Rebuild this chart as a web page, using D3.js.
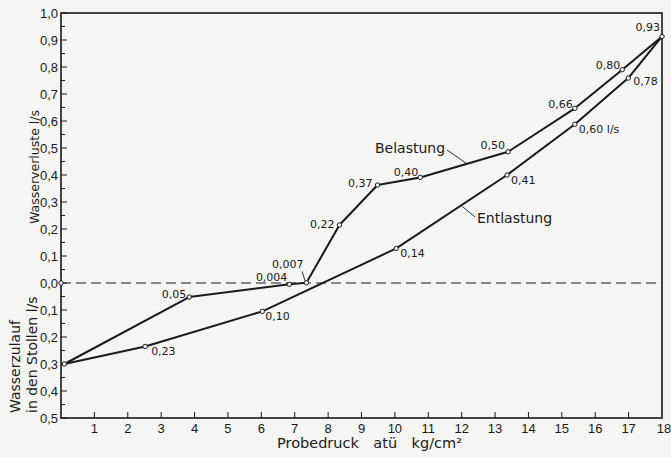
<!DOCTYPE html>
<html>
<head>
<meta charset="utf-8">
<script src="https://cdn.jsdelivr.net/npm/d3@7"></script>
<style>
  body { margin: 0; background: #f5f5f3; }
  svg { display: block; }
  text { fill: #1a1a1a; }
</style>
</head>
<body>
<svg id="chart"></svg>
<script>
// Belastung (loading) curve
const belX = [0.1, 3.84, 6.84, 7.35, 8.34, 9.48, 10.76, 13.39, 15.39, 16.81, 18.0];
const belY = [-0.30, -0.052, -0.005, 0.001, 0.215, 0.363, 0.391, 0.486, 0.647, 0.79, 0.913];
const belLabels = ["", "0,05", "0,004", "0,007", "0,22", "0,37", "0,40", "0,50", "0,66", "0,80", "0,93"];

// Entlastung (unloading) curve
const entX = [18.0, 16.99, 15.39, 13.36, 10.04, 6.03, 2.52, 0.1];
const entY = [0.913, 0.759, 0.588, 0.40, 0.128, -0.105, -0.235, -0.30];
const entLabels = ["", "0,78", "0,60 l/s", "0,41", "0,14", "0,10", "0,23", ""];

// ticks
const xTicks = [1, 2, 3, 4, 5, 6, 7, 8, 9, 10, 11, 12, 13, 14, 15, 16, 17, 18];
const xTickLabels = ["1", "2", "3", "4", "5", "6", "7", "8", "9", "10", "11", "12", "13", "14", "15", "16", "17", "18"];
const yTicks = [1.0, 0.9, 0.8, 0.7, 0.6, 0.5, 0.4, 0.3, 0.2, 0.1, 0.0, -0.1, -0.2, -0.3, -0.4, -0.5];
const yTickLabels = ["1,0", "0,9", "0,8", "0,7", "0,6", "0,5", "0,4", "0,3", "0,2", "0,1", "0,0", "0,1", "0,2", "0,3", "0,4", "0,5"];

// label placement (dx, dy, anchor) - layout only
const belPlace = [null, [-3, 1, "end"], [-2, -3, "end"], [-3, -15, "end"], [-5, 3, "end"], [-5, 2, "end"],
  [-2, -1, "end"], [-3, -3, "end"], [-2, 0, "end"], [-2, -1, "end"], [-2, -5, "end"]];
const entPlace = [null, [5, 7, "start"], [4, 9, "start"], [4, 9, "start"], [4, 9, "start"], [3, 9, "start"], [6, 9, "start"], null];

const W = 671, H = 457;
const svg = d3.select("#chart").attr("width", W).attr("height", H);

const x = d3.scaleLinear().domain([0, 18]).range([61, 662]);
const y = d3.scaleLinear().domain([-0.5, 1.0]).range([418, 13]);

// frame
svg.append("rect")
  .attr("x", x(0)).attr("y", y(1.0))
  .attr("width", x(18) - x(0)).attr("height", y(-0.5) - y(1.0))
  .attr("fill", "none").attr("stroke", "#1a1a1a").attr("stroke-width", 1.6);

// zero line, dashed
svg.append("line")
  .attr("x1", x(0)).attr("x2", x(18))
  .attr("y1", y(0)).attr("y2", y(0))
  .attr("stroke", "#1a1a1a").attr("stroke-width", 1.2)
  .attr("stroke-dasharray", "10,5");

// y axis: ticks inside every 0.05
const yMinor = d3.range(-10, 21).map(i => i * 0.05);
svg.append("g").selectAll("line")
  .data(yMinor)
  .enter().append("line")
  .attr("x1", x(0)).attr("x2", (d, i) => x(0) + (i % 2 === 0 ? 6 : 4))
  .attr("y1", d => y(d)).attr("y2", d => y(d))
  .attr("stroke", "#1a1a1a").attr("stroke-width", 1);

svg.append("g").selectAll("text")
  .data(yTicks)
  .enter().append("text")
  .attr("x", 58).attr("y", d => y(d))
  .attr("dy", "0.42em")
  .attr("text-anchor", "end")
  .style("font-family", "Liberation Sans, Arial, sans-serif")
  .style("font-size", "13px")
  .text((d, i) => yTickLabels[i]);

// x axis ticks inside
svg.append("g").selectAll("line")
  .data(xTicks.filter(d => d < 18))
  .enter().append("line")
  .attr("x1", d => x(d)).attr("x2", d => x(d))
  .attr("y1", y(-0.5)).attr("y2", y(-0.5) - 6)
  .attr("stroke", "#1a1a1a").attr("stroke-width", 1);

svg.append("g").selectAll("text")
  .data(xTicks)
  .enter().append("text")
  .attr("x", d => x(d) + (d === 18 ? 2 : 0)).attr("y", y(-0.5) + 15)
  .attr("text-anchor", "middle")
  .style("font-family", "Liberation Sans, Arial, sans-serif")
  .style("font-size", "13px")
  .text((d, i) => xTickLabels[i]);

// axis titles
svg.append("text")
  .attr("x", 277).attr("y", 448)
  .style("font-family", "DejaVu Sans, sans-serif")
  .style("font-size", "14.5px")
  .text("Probedruck\u2003atü\u2003kg/cm²");

svg.append("text")
  .attr("transform", "translate(39,167) rotate(-90)")
  .attr("text-anchor", "middle")
  .style("font-family", "DejaVu Sans, sans-serif")
  .style("font-size", "12.5px")
  .text("Wasserverluste l/s");

svg.append("text")
  .attr("transform", "translate(20,413) rotate(-90)")
  .style("font-family", "DejaVu Sans, sans-serif")
  .style("font-size", "14px")
  .text("Wasserzulauf");

svg.append("text")
  .attr("transform", "translate(37,413) rotate(-90)")
  .style("font-family", "DejaVu Sans, sans-serif")
  .style("font-size", "14px")
  .text("in den Stollen l/s");

// curves
const line = d3.line().x(d => x(d[0])).y(d => y(d[1]));
const bel = belX.map((v, i) => [v, belY[i]]);
const ent = entX.map((v, i) => [v, entY[i]]);

[bel, ent].forEach(pts => {
  svg.append("path")
    .datum(pts)
    .attr("fill", "none")
    .attr("stroke", "#1a1a1a")
    .attr("stroke-width", 2)
    .attr("stroke-linejoin", "round")
    .attr("d", line);
});

// leader lines (data units)
const leaders = [
  [[11.56, 0.493], [12.13, 0.444]],
  [[12.02, 0.283], [12.40, 0.245]],
  [[7.22, 0.043], [7.31, 0.008]]
];
leaders.forEach(l => {
  svg.append("line")
    .attr("x1", x(l[0][0])).attr("y1", y(l[0][1]))
    .attr("x2", x(l[1][0])).attr("y2", y(l[1][1]))
    .attr("stroke", "#1a1a1a").attr("stroke-width", 0.9);
});

// point markers
const allPts = bel.concat(ent.slice(1, -1)).concat([[0, 0]]);
svg.append("g").selectAll("circle")
  .data(allPts)
  .enter().append("circle")
  .attr("cx", d => x(d[0])).attr("cy", d => y(d[1]))
  .attr("r", 2.2)
  .attr("fill", "#f5f5f3")
  .attr("stroke", "#1a1a1a").attr("stroke-width", 1);

// value labels
function addLabels(pts, labels, place) {
  pts.forEach((p, i) => {
    if (!labels[i] || !place[i]) return;
    svg.append("text")
      .attr("x", x(p[0]) + place[i][0])
      .attr("y", y(p[1]) + place[i][1])
      .attr("text-anchor", place[i][2])
      .style("font-family", "DejaVu Sans, sans-serif")
      .style("font-size", "11px")
      .text(labels[i]);
  });
}
addLabels(bel, belLabels, belPlace);
addLabels(ent, entLabels, entPlace);

// curve names
svg.append("text")
  .attr("x", 375).attr("y", 153)
  .style("font-family", "DejaVu Sans, sans-serif")
  .style("font-size", "14px")
  .text("Belastung");

svg.append("text")
  .attr("x", 477).attr("y", 223)
  .style("font-family", "DejaVu Sans, sans-serif")
  .style("font-size", "14px")
  .text("Entlastung");
</script>
</body>
</html>
